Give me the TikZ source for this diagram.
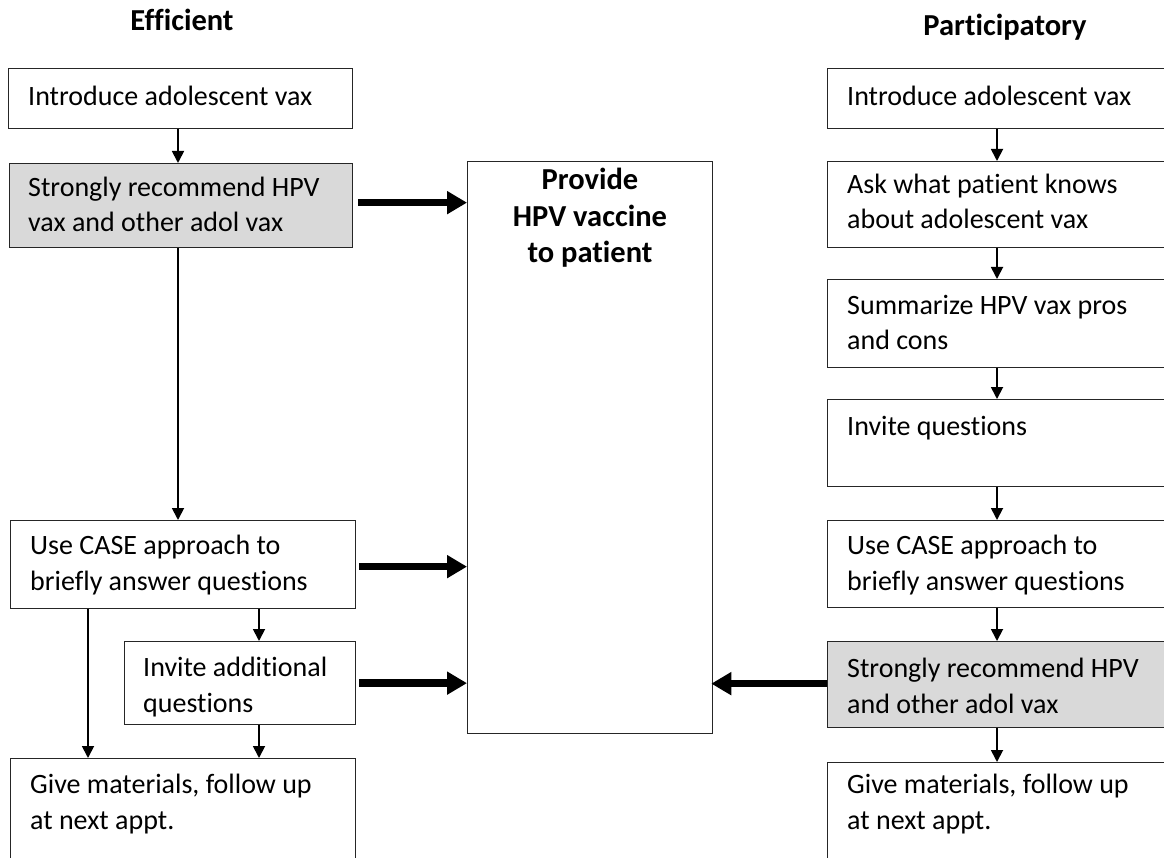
\documentclass[tikz,border=0pt]{standalone}
\usepackage{fontspec}
\setmainfont[Ligatures=NoCommon]{Carlito}
\usetikzlibrary{arrows.meta}
\definecolor{boxgray}{HTML}{D9D9D9}
\begin{document}
\begin{tikzpicture}[x=1pt,y=-1pt,
  box/.style={draw=black!85, line width=1.3pt, rectangle, inner sep=0pt, anchor=north west},
  gbox/.style={box, fill=boxgray},
  txt/.style={anchor=base west, inner sep=0pt, font=\fontsize{28}{35.5}\selectfont, align=left},
  ttl/.style={anchor=base, inner sep=0pt, font=\fontsize{30.5}{36.5}\selectfont\bfseries, align=center},
  thinarrow/.style={-{Triangle[length=12pt,width=12pt]}, line width=1.8pt},
  thickarrow/.style={-{Triangle[length=20pt,width=22pt]}, line width=7.5pt}]
\clip (0,0) rectangle (1164,858);
% columns for thin connectors
\coordinate (xl) at (178,0);
\coordinate (xa) at (88,0);
\coordinate (xb) at (259,0);
\coordinate (xr) at (997,0);
% titles
\node[ttl] (T1) at (182,31) {Efficient};
\node[ttl] (T2) at (1005,36) {Participatory};
% left column boxes
\node[box, minimum width=344pt, minimum height=60pt] (L1) at (8,68) {};
\node[gbox, minimum width=343pt, minimum height=84pt] (L2) at (9,163) {};
\node[box, minimum width=345pt, minimum height=88pt] (L3) at (10,520) {};
\node[box, minimum width=231pt, minimum height=83pt] (L4) at (124,641) {};
\node[box, minimum width=345pt, minimum height=140pt] (L5) at (10,758) {};
% centre box
\node[box, minimum width=245pt, minimum height=572pt] (C) at (467,161) {};
% right column boxes
\node[box, minimum width=360pt, minimum height=60pt] (R1) at (827,68) {};
\node[box, minimum width=360pt, minimum height=86pt] (R2) at (827,161) {};
\node[box, minimum width=360pt, minimum height=88pt] (R3) at (827,279) {};
\node[box, minimum width=360pt, minimum height=87pt] (R4) at (827,399) {};
\node[box, minimum width=360pt, minimum height=87pt] (R5) at (827,520) {};
\node[gbox, minimum width=360pt, minimum height=86pt] (R6) at (827,641) {};
\node[box, minimum width=360pt, minimum height=140pt] (R7) at (827,762) {};
% texts (anchor = baseline of the last line)
\node[txt] (tL1) at (28,106) {Introduce adolescent vax};
\node[txt] (tL2) at (28,232) {Strongly recommend HPV\\vax and other adol vax};
\node[txt] (tL3) at (30,590) {Use CASE approach to\\briefly answer questions};
\node[txt] (tL4) at (143,712) {Invite additional\\questions};
\node[txt] (tL5) at (30,829) {Give materials, follow up\\at next appt.};
\node[ttl] (tC) at (590,263) {Provide\\HPV vaccine\\to patient};
\node[txt] (tR1) at (847,106) {Introduce adolescent vax};
\node[txt] (tR2) at (847,229) {Ask what patient knows\\about adolescent vax};
\node[txt] (tR3) at (847,350) {Summarize HPV vax pros\\and cons};
\node[txt] (tR4) at (847,435) {Invite questions};
\node[txt] (tR5) at (847,590) {Use CASE approach to\\briefly answer questions};
\node[txt] (tR6) at (847,713) {Strongly recommend HPV\\and other adol vax};
\node[txt] (tR7) at (847,829) {Give materials, follow up\\at next appt.};
% thin connectors, left
\draw[thinarrow] (L1.south -| xl) -- (L2.north -| xl);
\draw[thinarrow] (L2.south -| xl) -- (L3.north -| xl);
\draw[thinarrow] (L3.south -| xa) -- (L5.north -| xa);
\draw[thinarrow] (L3.south -| xb) -- (L4.north -| xb);
\draw[thinarrow] (L4.south -| xb) -- (L5.north -| xb);
% thin connectors, right
\draw[thinarrow] (R1.south -| xr) -- (R2.north -| xr);
\draw[thinarrow] (R2.south -| xr) -- (R3.north -| xr);
\draw[thinarrow] (R3.south -| xr) -- (R4.north -| xr);
\draw[thinarrow] (R4.south -| xr) -- (R5.north -| xr);
\draw[thinarrow] (R5.south -| xr) -- (R6.north -| xr);
\draw[thinarrow] (R6.south -| xr) -- (R7.north -| xr);
% thick connectors
\draw[thickarrow, shorten <=5pt] ([yshift=3pt]L2.east) -- ([yshift=3pt]L2.east -| C.west);
\draw[thickarrow, shorten <=3pt] ([yshift=-2pt]L3.east) -- ([yshift=-2pt]L3.east -| C.west);
\draw[thickarrow, shorten <=3pt] (L4.east) -- (L4.east -| C.west);
\draw[thickarrow, shorten >=-2pt] ([yshift=1pt]R6.west) -- ([yshift=1pt]R6.west -| C.east);
\end{tikzpicture}
\end{document}
